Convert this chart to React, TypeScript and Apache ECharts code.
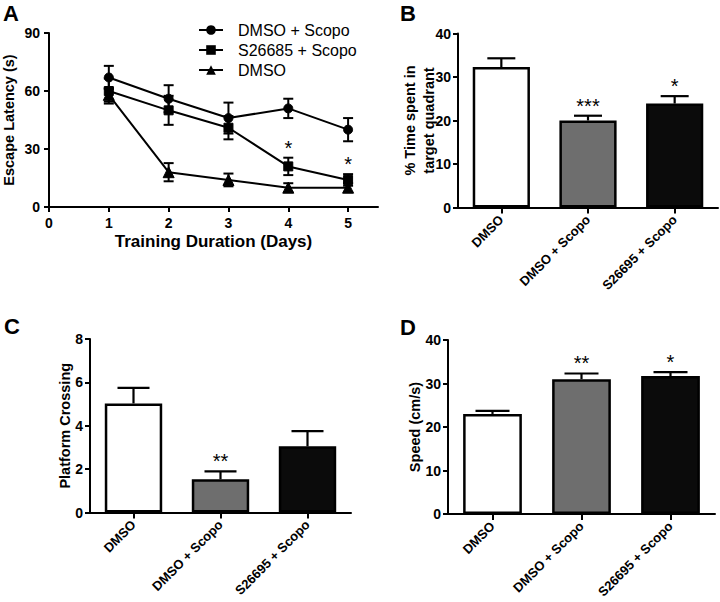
import React, { useEffect, useRef } from 'react';
import * as echarts from 'echarts';

// ---------- Panel A data ----------
const days = [1, 2, 3, 4, 5];
const xTicksA = [0, 1, 2, 3, 4, 5];
const yTicksA = [0, 30, 60, 90];
const seriesNamesA = ['DMSO + Scopo', 'S26685 + Scopo', 'DMSO'];
const seriesSymbolsA = ['circle', 'rect', 'triangle'];
const dmsoScopoMean = [67, 56, 46, 51, 40];
const dmsoScopoErr = [6, 7, 8, 5, 6];
const s26685Mean = [60, 50, 41, 21, 14];
const s26685Err = [6.5, 7.5, 6, 4.5, 3];
const dmsoMean = [58, 18, 14, 10, 10];
const dmsoErr = [3.5, 4.7, 3.3, 2.3, 2.3];
const starsA = ['', '', '', '*', '*'];

// ---------- Panels B, C, D data ----------
const groups = ['DMSO', 'DMSO + Scopo', 'S26695 + Scopo'];
const groupColors = ['#ffffff', '#6e6e6e', '#0b0b0b'];
const timeMean = [32.3, 20.0, 23.9];
const timeErr = [2.0, 1.1, 1.7];
const timeStars = ['', '***', '*'];
const crossMean = [5.03, 1.53, 3.05];
const crossErr = [0.72, 0.37, 0.7];
const crossStars = ['', '**', ''];
const speedMean = [23.0, 31.0, 31.7];
const speedErr = [0.7, 1.3, 0.9];
const speedStars = ['', '**', '*'];

const FONT = "'Liberation Sans', Arial, Helvetica, sans-serif";

function buildOption() {
  const meansA = [dmsoScopoMean, s26685Mean, dmsoMean];
  const errsA = [dmsoScopoErr, s26685Err, dmsoErr];
  const starsPerSeriesA = [null, starsA, null];
  const symbolSizes = [9, 9, 11];

  const axisLineStyle = { lineStyle: { color: '#000', width: 2 } };
  const tickStyle = { lineStyle: { color: '#000', width: 2 } };

  const starText = (x: number, y: number, s: string) => ({
    type: 'text',
    x,
    y: y - 6,
    style: {
      text: s,
      fill: '#000',
      font: `20px ${FONT}`,
      align: 'center',
      verticalAlign: 'middle',
    },
  });

  const errRenderBoth = (stars: string[] | null) => (params: any, api: any) => {
    const x = api.value(0);
    const m = api.value(1);
    const e = api.value(2);
    const top = api.coord([x, m + e]);
    const bot = api.coord([x, m - e]);
    const style = { stroke: '#000', lineWidth: 2 };
    const cap = 5;
    const children: any[] = [
      { type: 'line', shape: { x1: top[0], y1: top[1], x2: bot[0], y2: bot[1] }, style },
      { type: 'line', shape: { x1: top[0] - cap, y1: top[1], x2: top[0] + cap, y2: top[1] }, style },
      { type: 'line', shape: { x1: bot[0] - cap, y1: bot[1], x2: bot[0] + cap, y2: bot[1] }, style },
    ];
    const s = stars ? stars[params.dataIndex] : '';
    if (s) children.push(starText(top[0], top[1] - 4, s));
    return { type: 'group', children };
  };

  const errRenderUp = (stars: string[], cap: number) => (params: any, api: any) => {
    const x = api.value(0);
    const m = api.value(1);
    const e = api.value(2);
    const top = api.coord([x, m + e]);
    const base = api.coord([x, m]);
    const style = { stroke: '#000', lineWidth: 2.2 };
    const children: any[] = [
      { type: 'line', shape: { x1: top[0], y1: top[1], x2: base[0], y2: base[1] }, style },
      { type: 'line', shape: { x1: top[0] - cap, y1: top[1], x2: top[0] + cap, y2: top[1] }, style },
    ];
    const s = stars[params.dataIndex];
    if (s) children.push(starText(top[0], top[1] - 4, s));
    return { type: 'group', children };
  };

  const grids = [
    { left: 48, top: 33, width: 330, height: 174 },
    { left: 458, top: 33.5, width: 260, height: 174 },
    { left: 90, top: 339, width: 261, height: 173.5 },
    { left: 448, top: 340, width: 267, height: 174 },
  ];

  const labelFont = { color: '#000', fontFamily: FONT, fontWeight: 'bold' as const, fontSize: 14 };
  const nameFont = { color: '#000', fontFamily: FONT, fontWeight: 'bold' as const, fontSize: 14.5 };

  const catAxis = (gridIndex: number) => ({
    type: 'category',
    gridIndex,
    data: groups,
    boundaryGap: true,
    axisLine: axisLineStyle,
    axisTick: { show: true, alignWithLabel: true, length: 6, ...tickStyle },
    axisLabel: { ...labelFont, fontSize: 13, rotate: 45, interval: 0, margin: 10 },
    splitLine: { show: false },
  });

  const valAxis = (gridIndex: number, max: number, interval: number, name: string, nameGap: number, extra: any = {}) => ({
    type: 'value',
    gridIndex,
    min: 0,
    max,
    interval,
    name,
    nameLocation: 'middle',
    nameGap,
    nameMoveOverlap: false,
    nameTextStyle: { ...nameFont, ...extra },
    axisLine: { show: true, ...axisLineStyle },
    axisTick: { show: true, length: 5, ...tickStyle },
    axisLabel: { ...labelFont, margin: 7 },
    splitLine: { show: false },
  });

  const series: any[] = [];

  // Panel A error bars
  meansA.forEach((means, si) => {
    series.push({
      type: 'custom',
      name: seriesNamesA[si] + ' SEM',
      xAxisIndex: 0,
      yAxisIndex: 0,
      encode: { x: 0, y: 1 },
      data: days.map((d, i) => [d, means[i], errsA[si][i]]),
      renderItem: errRenderBoth(starsPerSeriesA[si]),
      z: 3,
    });
  });
  // Panel A lines
  meansA.forEach((means, si) => {
    series.push({
      type: 'line',
      name: seriesNamesA[si],
      xAxisIndex: 0,
      yAxisIndex: 0,
      data: days.map((d, i) => [d, means[i]]),
      symbol: seriesSymbolsA[si],
      symbolSize: symbolSizes[si],
      showAllSymbol: true,
      lineStyle: { color: '#000', width: 2 },
      itemStyle: { color: '#000', borderColor: '#000' },
      z: 4,
    });
  });

  const barPanels = [
    { means: timeMean, errs: timeErr, stars: timeStars, cap: 14 },
    { means: crossMean, errs: crossErr, stars: crossStars, cap: 16 },
    { means: speedMean, errs: speedErr, stars: speedStars, cap: 17 },
  ];
  barPanels.forEach((p, k) => {
    const idx = k + 1;
    series.push({
      type: 'bar',
      name: 'bars' + idx,
      xAxisIndex: idx,
      yAxisIndex: idx,
      barWidth: '66%',
      data: p.means.map((v, i) => ({
        value: v,
        itemStyle: { color: groupColors[i], borderColor: '#000', borderWidth: 2.5 },
      })),
      z: 2,
    });
    series.push({
      type: 'custom',
      name: 'sem' + idx,
      xAxisIndex: idx,
      yAxisIndex: idx,
      encode: { x: 0, y: 1 },
      data: p.means.map((v, i) => [i, v, p.errs[i]]),
      renderItem: errRenderUp(p.stars, p.cap),
      z: 3,
    });
  });

  const panelLetter = (t: string, x: number, y: number) => ({
    type: 'text',
    x,
    y,
    style: {
      text: t,
      fill: '#000',
      font: `bold 22px ${FONT}`,
      align: 'center',
      verticalAlign: 'middle',
    },
  });

  return {
    animation: false,
    backgroundColor: '#ffffff',
    grid: grids,
    legend: {
      data: seriesNamesA,
      orient: 'vertical',
      left: 193,
      top: 17,
      itemWidth: 24,
      itemHeight: 12,
      itemGap: 4,
      textStyle: { color: '#000', fontFamily: FONT, fontSize: 16, padding: [0, 0, 0, 10] },
      inactiveColor: '#000',
    },
    xAxis: [
      {
        type: 'value',
        gridIndex: 0,
        min: 0,
        max: 5.5,
        name: 'Training Duration (Days)',
        nameLocation: 'middle',
        nameGap: 26,
        nameMoveOverlap: false,
        nameTextStyle: { ...nameFont, fontSize: 17 },
        axisLine: axisLineStyle,
        axisTick: { show: true, length: 5, customValues: xTicksA, ...tickStyle },
        axisLabel: { ...labelFont, fontSize: 14, margin: 9, customValues: xTicksA },
        splitLine: { show: false },
      },
      catAxis(1),
      catAxis(2),
      catAxis(3),
    ],
    yAxis: [
      {
        ...valAxis(0, 90, 30, 'Escape Latency (s)', 33),
        axisTick: { show: true, length: 5, customValues: yTicksA, ...tickStyle },
        axisLabel: { ...labelFont, margin: 9, customValues: yTicksA },
      },
      valAxis(1, 40, 10, '% Time spent in\ntarget quadrant', 20, { lineHeight: 19 }),
      valAxis(2, 8, 2, 'Platform Crossing', 18),
      valAxis(3, 40, 10, 'Speed (cm/s)', 26),
    ],
    series,
    graphic: [
      panelLetter('A', 11, 13),
      panelLetter('B', 408, 13),
      panelLetter('C', 12, 326),
      panelLetter('D', 408, 327),
    ],
  };
}

export default function App() {
  const ref = useRef<HTMLDivElement>(null);
  useEffect(() => {
    if (!ref.current) return;
    const chart = echarts.init(ref.current, undefined, { renderer: 'svg' });
    chart.setOption(buildOption() as any);
    return () => chart.dispose();
  }, []);
  return (
    <div
      ref={ref}
      style={{ position: 'fixed', left: 0, top: 0, width: 720, height: 602, background: '#fff' }}
    />
  );
}
